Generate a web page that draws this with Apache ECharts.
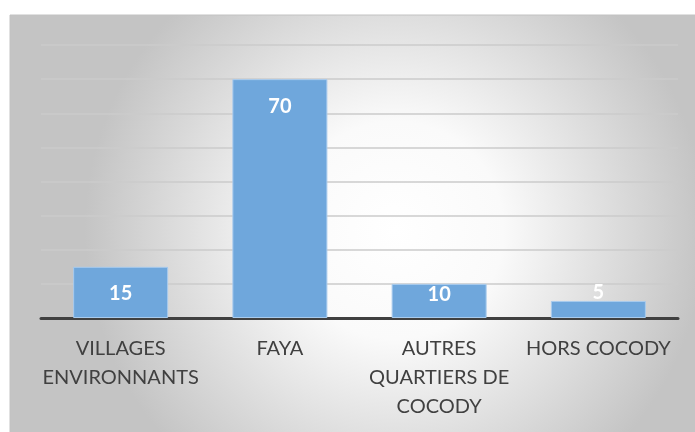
<!DOCTYPE html>
<html lang="fr">
<head>
    <meta charset="UTF-8">
    <title>Provenance</title>
    <script src="https://cdn.jsdelivr.net/npm/echarts@6/dist/echarts.min.js"></script>
    <style>
        body{
            margin: 0;
            background: #ffffff;
        }
        #chart{ width: 695px; height: 432px; }
    </style>
</head>
<body>
<div id="chart"></div>
<script>
    var categories = ['VILLAGES\nENVIRONNANTS', 'FAYA', 'AUTRES\nQUARTIERS DE\nCOCODY', 'HORS COCODY'];
    var values = [15, 70, 10, 5];
    var yMax = 80;
    var yStep = 10;

    // where the value label sits on each bar
    var labelPlace = ['insideTop', 'insideTop', 'insideTop', 'top'];
    var labelGap = [17, 17, 1, -2];

    var chart = echarts.init(document.getElementById('chart'));
    chart.setOption({
        backgroundColor: '#ffffff',
        animation: false,
        graphic: [{
            type: 'rect',
            z: -10,
            silent: true,
            shape: { x: 10, y: 15, width: 700, height: 430 },
            style: {
                fill: new echarts.graphic.RadialGradient(0.55, 0.5, 0.72, [
                    { offset: 0, color: '#ffffff' },
                    { offset: 0.35, color: '#fafafa' },
                    { offset: 1, color: '#c4c4c4' }
                ]),
                stroke: '#c2c2c2',
                lineWidth: 1
            }
        }],
        grid: { left: 41, right: 17, top: 45, bottom: 114 },
        xAxis: {
            type: 'category',
            data: categories,
            axisTick: { show: false },
            axisLine: { lineStyle: { color: '#404040', width: 3 } },
            axisLabel: {
                interval: 0,
                margin: 16,
                color: '#404040',
                fontFamily: 'Lato',
                fontSize: 20,
                lineHeight: 29
            }
        },
        yAxis: {
            type: 'value',
            min: 0,
            max: yMax,
            interval: yStep,
            axisLabel: { show: false },
            axisLine: { show: false },
            axisTick: { show: false },
            splitLine: { lineStyle: { color: '#cbcbcb', width: 1.5 } }
        },
        series: [{
            type: 'bar',
            barWidth: 95,
            itemStyle: { color: '#6fa7dc', borderColor: '#a8cbed', borderWidth: 1 },
            label: {
                show: true,
                color: '#ffffff',
                fontFamily: 'Lato',
                fontWeight: 'bold',
                fontSize: 20
            },
            data: values.map(function (v, i) {
                return {
                    value: v,
                    label: { position: labelPlace[i], distance: labelGap[i] }
                };
            })
        }]
    });
</script>
</body>
</html>
